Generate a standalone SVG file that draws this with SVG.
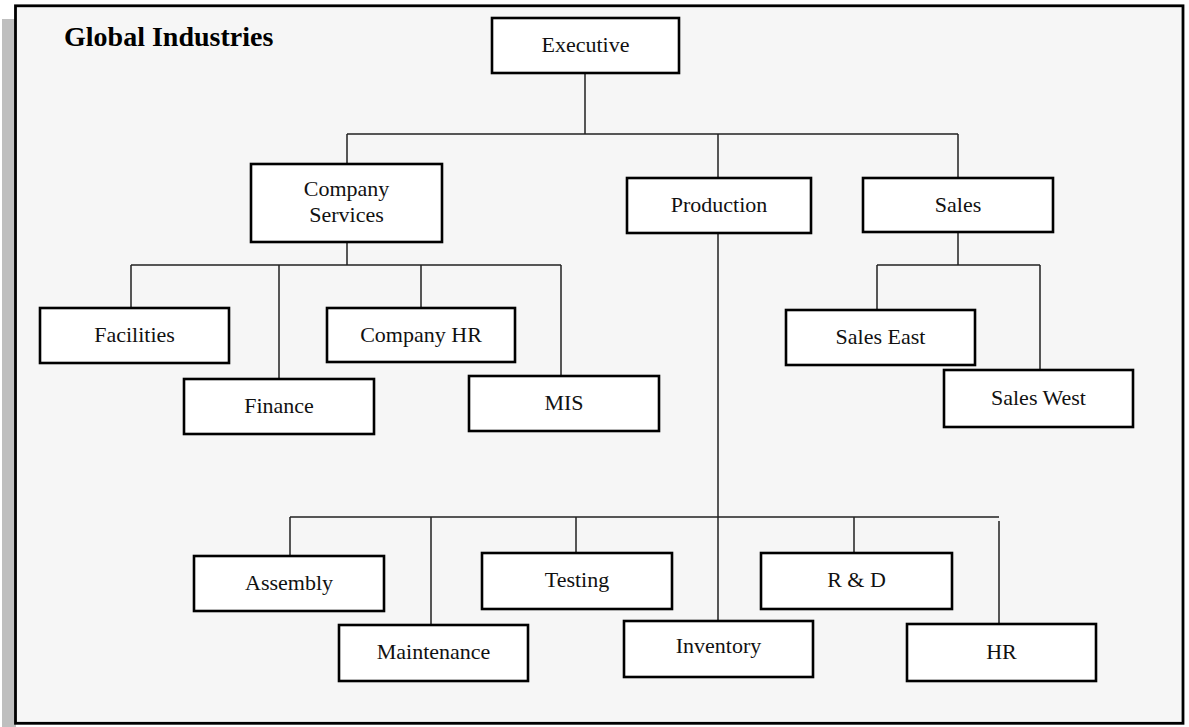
<svg xmlns="http://www.w3.org/2000/svg" width="1189" height="727" viewBox="0 0 1189 727">
<style>
.box{fill:#ffffff;stroke:#000000;stroke-width:2.6}
.lbl{font-family:"Liberation Serif","Times New Roman",serif;font-size:22px;fill:#111111;text-anchor:middle}
.ttl{font-family:"Liberation Serif","Times New Roman",serif;font-size:28px;font-weight:bold;fill:#000000}
.conn{stroke:#222222;stroke-width:1.5;fill:none}
</style>
<rect x="2" y="19" width="14" height="708" fill="#bfbfbf"/>
<rect x="15.5" y="5.8" width="1167.5" height="717.5" fill="#f6f6f6" stroke="#000000" stroke-width="2.8"/>
<text class="ttl" x="64" y="46">Global Industries</text>
<g id="connectors">
<path class="conn" d="M585 73V134M347 134H958M347 134V164M718 134V178M958 134V178"/>
<path class="conn" d="M347 242V265M131 265H561M131 265V308M279 265V378M421 265V308M561 265V376"/>
<path class="conn" d="M958 232V265M877 265H1040M877 265V310M1040 265V369"/>
<path class="conn" d="M718 233V620M290 517H999M290 517V556M431 517V625M576 517V553M854 517V553M999 521V624"/>
</g>
<g id="executive"><rect class="box" x="492" y="18" width="187" height="55"/><text class="lbl" x="585.5" y="52">Executive</text></g>
<g id="company-services"><rect class="box" x="251" y="164" width="191" height="78"/><text class="lbl" x="346.5" y="196">Company</text><text class="lbl" x="346.5" y="222">Services</text></g>
<g id="production"><rect class="box" x="627" y="178" width="184" height="55"/><text class="lbl" x="719" y="212">Production</text></g>
<g id="sales"><rect class="box" x="863" y="178" width="190" height="54"/><text class="lbl" x="958" y="212">Sales</text></g>
<g id="facilities"><rect class="box" x="40" y="308" width="189" height="55"/><text class="lbl" x="134.5" y="342">Facilities</text></g>
<g id="finance"><rect class="box" x="184" y="379" width="190" height="55"/><text class="lbl" x="279" y="413">Finance</text></g>
<g id="company-hr"><rect class="box" x="327" y="308" width="188" height="54"/><text class="lbl" x="421" y="342">Company HR</text></g>
<g id="mis"><rect class="box" x="469" y="376" width="190" height="55"/><text class="lbl" x="564" y="410">MIS</text></g>
<g id="sales-east"><rect class="box" x="786" y="310" width="189" height="55"/><text class="lbl" x="880.5" y="344">Sales East</text></g>
<g id="sales-west"><rect class="box" x="944" y="370" width="189" height="57"/><text class="lbl" x="1038.5" y="405">Sales West</text></g>
<g id="assembly"><rect class="box" x="194" y="556" width="190" height="55"/><text class="lbl" x="289" y="590">Assembly</text></g>
<g id="maintenance"><rect class="box" x="339" y="625" width="189" height="56"/><text class="lbl" x="433.5" y="659">Maintenance</text></g>
<g id="testing"><rect class="box" x="482" y="553" width="190" height="56"/><text class="lbl" x="577" y="587">Testing</text></g>
<g id="inventory"><rect class="box" x="624" y="621" width="189" height="56"/><text class="lbl" x="718.5" y="653">Inventory</text></g>
<g id="r-and-d"><rect class="box" x="761" y="553" width="191" height="56"/><text class="lbl" x="856.5" y="587">R &amp; D</text></g>
<g id="hr"><rect class="box" x="907" y="624" width="189" height="57"/><text class="lbl" x="1001.5" y="659">HR</text></g>
</svg>
